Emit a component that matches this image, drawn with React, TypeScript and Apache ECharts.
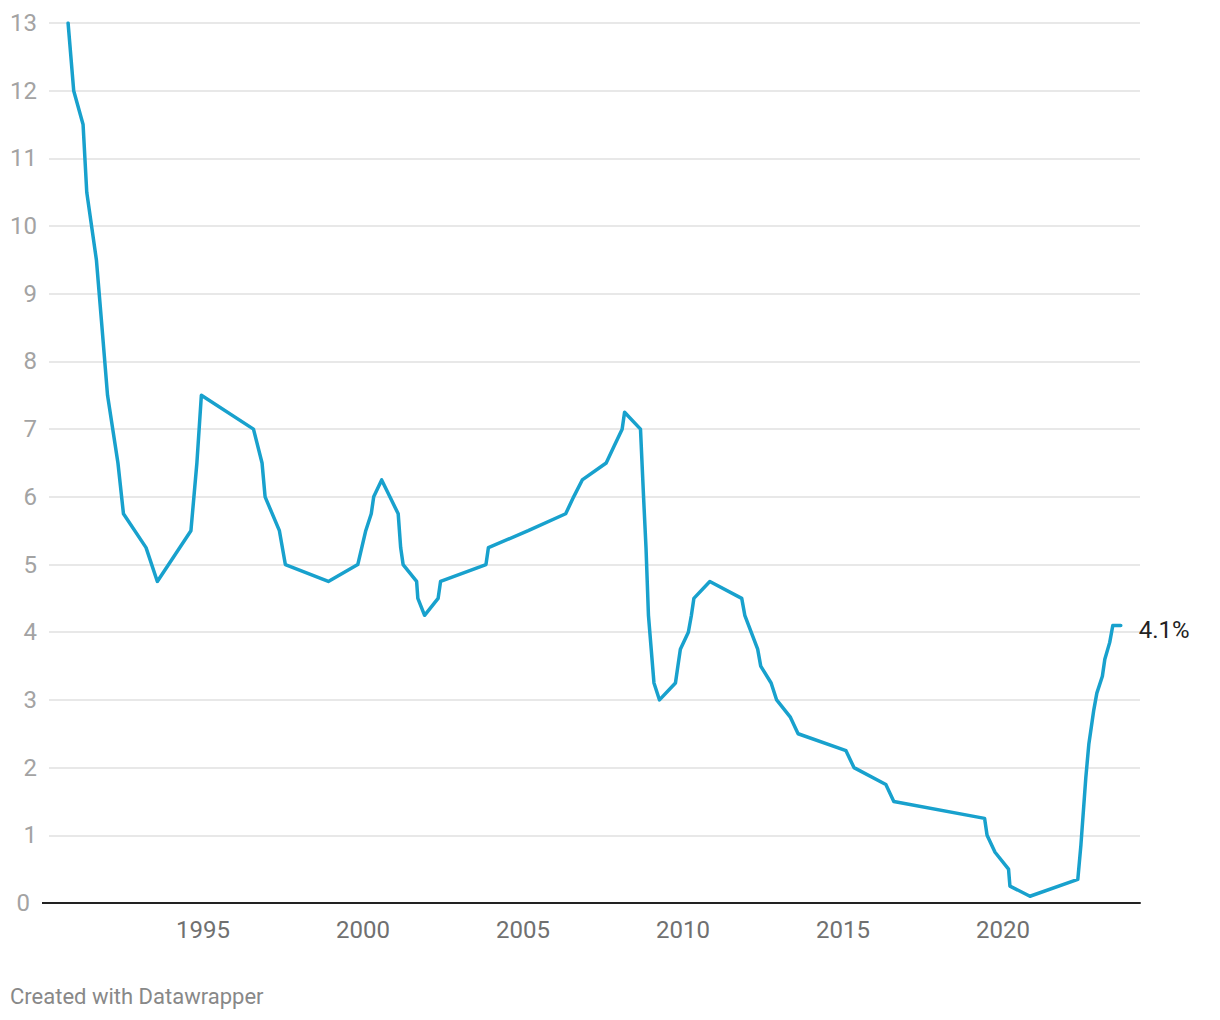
import React, { useEffect, useRef } from "react";
import * as echarts from "echarts";

// RBA cash rate target at each change date (%)
const changeDates: string[] = [
  "1990-10-15", "1990-12-18", "1991-04-04", "1991-05-16", "1991-09-03", "1991-11-06",
  "1992-01-08", "1992-05-06", "1992-07-08", "1993-03-23", "1993-07-30", "1994-08-17",
  "1994-10-24", "1994-12-14", "1996-07-31", "1996-11-06", "1996-12-11", "1997-05-23",
  "1997-07-30", "1998-12-02", "1999-11-03", "2000-02-02", "2000-04-05", "2000-05-03",
  "2000-08-02", "2001-02-07", "2001-03-07", "2001-04-04", "2001-09-05", "2001-09-19",
  "2001-12-05", "2002-05-08", "2002-06-05", "2003-11-05", "2003-12-03", "2005-03-02",
  "2006-05-03", "2006-08-02", "2006-11-08", "2007-08-08", "2007-11-07", "2008-02-06",
  "2008-03-05", "2008-09-03", "2008-10-08", "2008-11-05", "2008-12-03", "2009-02-04",
  "2009-04-08", "2009-10-07", "2009-11-04", "2009-12-02", "2010-03-03", "2010-04-07",
  "2010-05-05", "2010-11-03", "2011-11-02", "2011-12-07", "2012-05-02", "2012-06-06",
  "2012-10-03", "2012-12-05", "2013-05-08", "2013-08-07", "2015-02-04", "2015-05-06",
  "2016-05-04", "2016-08-03", "2019-06-05", "2019-07-03", "2019-10-02", "2020-03-04",
  "2020-03-20", "2020-11-04", "2022-05-04", "2022-06-08", "2022-07-06", "2022-08-03",
  "2022-09-07", "2022-10-05", "2022-11-02", "2022-12-07", "2023-02-08", "2023-03-08",
  "2023-05-03", "2023-06-07", "2023-09-06",
];

const cashRate: number[] = [
  13, 12, 11.5, 10.5, 9.5, 8.5,
  7.5, 6.5, 5.75, 5.25, 4.75, 5.5,
  6.5, 7.5, 7, 6.5, 6, 5.5,
  5, 4.75, 5, 5.5, 5.75, 6,
  6.25, 5.75, 5.25, 5, 4.75, 4.5,
  4.25, 4.5, 4.75, 5, 5.25, 5.5,
  5.75, 6, 6.25, 6.5, 6.75, 7,
  7.25, 7, 6, 5.25, 4.25, 3.25,
  3, 3.25, 3.5, 3.75, 4, 4.25,
  4.5, 4.75, 4.5, 4.25, 3.75, 3.5,
  3.25, 3, 2.75, 2.5, 2.25, 2,
  1.75, 1.5, 1.25, 1, 0.75, 0.5,
  0.25, 0.1, 0.35, 0.85, 1.35, 1.85,
  2.35, 2.6, 2.85, 3.1, 3.35, 3.6,
  3.85, 4.1, 4.1,
];

const yTicks: number[] = [0, 1, 2, 3, 4, 5, 6, 7, 8, 9, 10, 11, 12, 13];
const xTickYears: number[] = [1995, 2000, 2005, 2010, 2015, 2020];
const footerText = "Created with Datawrapper";

function toDecimalYear(s: string): number {
  const [y, m, d] = s.split("-").map(Number);
  const start = Date.UTC(y, 0, 1);
  const end = Date.UTC(y + 1, 0, 1);
  const t = Date.UTC(y, m - 1, d);
  return y + (t - start) / (end - start);
}

export default function App() {
  const ref = useRef<HTMLDivElement>(null);

  useEffect(() => {
    if (!ref.current) return;
    const chart = echarts.init(ref.current, null, { renderer: "svg" });
    const seriesData = changeDates.map((d, i) => [toDecimalYear(d), cashRate[i]]);
    const font = "Roboto, 'Noto Sans', sans-serif";

    chart.setOption({
      animation: false,
      backgroundColor: "#ffffff",
      grid: { left: 49, right: 80, top: 23, bottom: 117, containLabel: false },
      xAxis: {
        type: "value",
        min: 1990.19,
        max: 2024.28,
        splitNumber: 5,
        axisLine: { show: true, onZero: true, lineStyle: { color: "#222222", width: 2 } },
        axisTick: { show: false },
        splitLine: { show: false },
        axisLabel: {
          color: "#707070",
          fontSize: 24,
          fontFamily: font,
          margin: 15,
          showMinLabel: false,
          showMaxLabel: false,
          formatter: (v: number) =>
            xTickYears.includes(Math.round(v)) && Math.abs(v - Math.round(v)) < 1e-6
              ? String(Math.round(v))
              : "",
        },
      },
      yAxis: {
        type: "value",
        min: yTicks[0],
        max: yTicks[yTicks.length - 1],
        interval: 1,
        axisLine: { show: false },
        axisTick: { show: false },
        splitLine: { show: true, lineStyle: { color: "#e0e0e0", width: 1.5 } },
        axisLabel: {
          color: "#a3a3a3",
          fontSize: 24,
          fontFamily: font,
          margin: 12,
          formatter: (v: number) => (v === 0 ? "{z|0}" : String(v)),
          rich: {
            z: { color: "#a3a3a3", fontSize: 24, fontFamily: font, padding: [0, 7, 0, 0] },
          },
        },
      },
      series: [
        {
          type: "line",
          data: seriesData,
          symbol: "none",
          lineStyle: { color: "#18a1cd", width: 3.5, cap: "round", join: "round" },
          endLabel: {
            show: true,
            distance: 18,
            color: "#222222",
            fontSize: 24,
            fontFamily: font,
            offset: [0, 5],
            formatter: (p: any) => `${p.value[1]}%`,
          },
          z: 3,
        },
      ],
      graphic: [
        {
          type: "line",
          shape: { x1: 42, y1: 903, x2: 50, y2: 903 },
          style: { stroke: "#222222", lineWidth: 2 },
          z: 10,
        },
        {
          type: "text",
          left: 10,
          top: 985,
          style: {
            text: footerText,
            fill: "#888888",
            fontSize: 22,
            fontFamily: font,
          },
        },
      ],
    });

    return () => chart.dispose();
  }, []);

  return (
    <div
      ref={ref}
      style={{ position: "fixed", left: 0, top: 0, width: 1220, height: 1020, background: "#fff" }}
    />
  );
}
